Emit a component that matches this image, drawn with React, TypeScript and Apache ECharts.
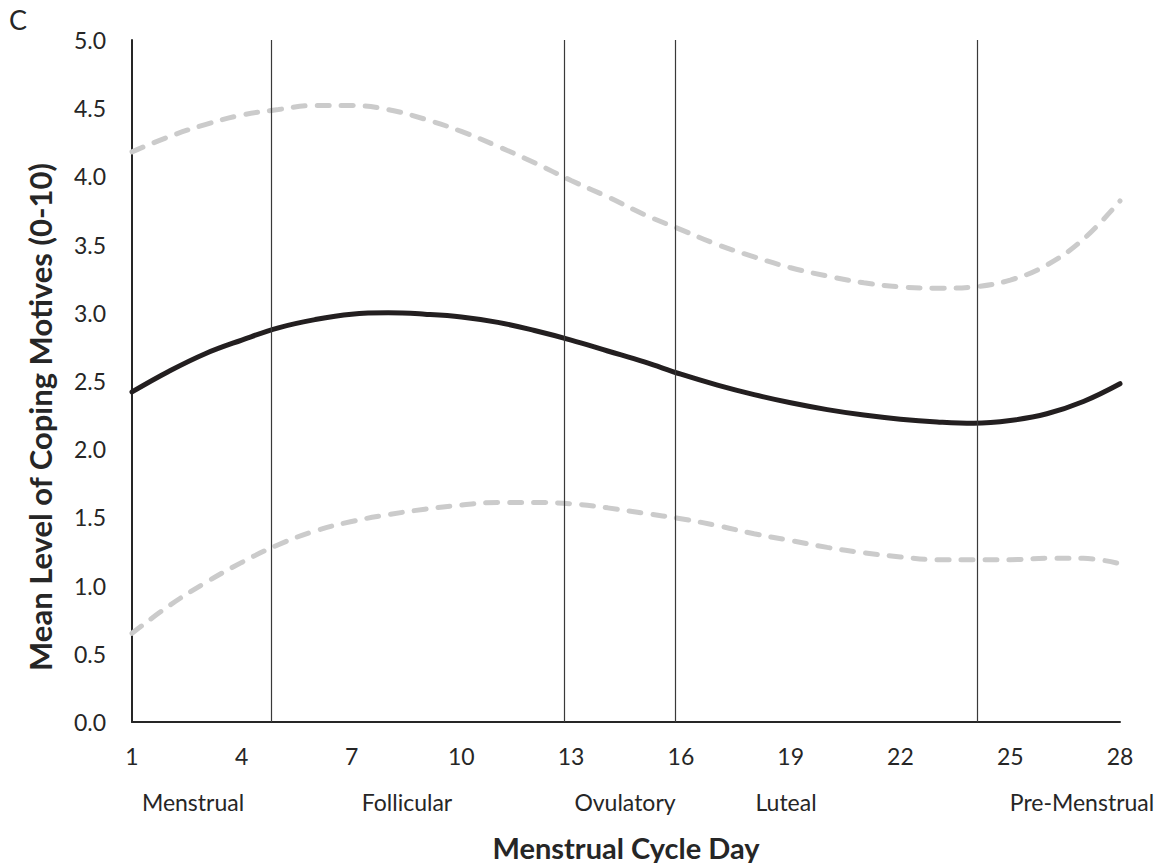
import React, { useEffect, useRef } from "react";
import * as echarts from "echarts";

// ---- data ----
const days = [1, 2, 3, 4, 5, 6, 7, 8, 9, 10, 11, 12, 13, 14, 15, 16, 17, 18, 19, 20, 21, 22, 23, 24, 25, 26, 27, 28];
const meanValues = [2.42, 2.57, 2.70, 2.80, 2.89, 2.95, 2.99, 3.00, 2.99, 2.97, 2.93, 2.87, 2.80, 2.72, 2.64, 2.55, 2.47, 2.40, 2.34, 2.29, 2.25, 2.22, 2.20, 2.19, 2.21, 2.26, 2.35, 2.48];
const upperValues = [4.18, 4.29, 4.38, 4.45, 4.49, 4.52, 4.52, 4.49, 4.42, 4.33, 4.22, 4.10, 3.97, 3.85, 3.72, 3.61, 3.50, 3.41, 3.33, 3.27, 3.22, 3.19, 3.18, 3.19, 3.24, 3.35, 3.54, 3.82];
const lowerValues = [0.65, 0.85, 1.02, 1.17, 1.30, 1.40, 1.47, 1.52, 1.56, 1.59, 1.61, 1.61, 1.60, 1.57, 1.53, 1.49, 1.44, 1.38, 1.33, 1.28, 1.24, 1.21, 1.19, 1.19, 1.19, 1.20, 1.20, 1.16];
const xTickDays = [1, 4, 7, 10, 13, 16, 19, 22, 25, 28];
const phaseBoundaryDays = [4.8, 12.8, 15.85, 24.1];
const phaseNames = ["Menstrual", "Follicular", "Ovulatory", "Luteal", "Pre-Menstrual"];

const xTitle = "Menstrual Cycle Day";
const yTitle = "Mean Level of Coping Motives (0-10)";
const panelLetter = "C";

// ---- layout ----
const phaseLabelX = [193, 407, 625, 786, 1082];
const FONT = "Lato, 'Noto Sans', sans-serif";
const TEXT_COLOR = "#262626";

export default function App() {
  const ref = useRef<HTMLDivElement>(null);

  useEffect(() => {
    if (!ref.current) return;
    const chart = echarts.init(ref.current, undefined, { renderer: "svg" });

    const pairs = (vals: number[]) => days.map((d, i) => [d, vals[i]]);

    const graphic: any[] = [
      {
        type: "text",
        x: 18,
        y: 19,
        style: {
          text: panelLetter,
          fontSize: 27,
          fontWeight: 400,
          fontFamily: FONT,
          fill: TEXT_COLOR,
          align: "center",
          verticalAlign: "middle",
        },
      },
      {
        type: "text",
        x: 626,
        y: 847,
        style: {
          text: xTitle,
          fontSize: 29,
          fontWeight: 700,
          fontFamily: FONT,
          fill: TEXT_COLOR,
          align: "center",
          verticalAlign: "middle",
        },
      },
      {
        type: "text",
        x: 40,
        y: 417,
        rotation: Math.PI / 2,
        style: {
          text: yTitle,
          fontSize: 31,
          fontWeight: 700,
          fontFamily: FONT,
          fill: TEXT_COLOR,
          align: "center",
          verticalAlign: "middle",
        },
      },
      ...phaseNames.map((name, i) => ({
        type: "text",
        x: phaseLabelX[i],
        y: 802,
        style: {
          text: name,
          fontSize: 23,
          fontWeight: 400,
          fontFamily: FONT,
          fill: TEXT_COLOR,
          align: "center",
          verticalAlign: "middle",
        },
      })),
    ];

    chart.setOption({
      animation: false,
      backgroundColor: "#ffffff",
      textStyle: { fontFamily: FONT },
      grid: { left: 132, right: 54, top: 40, bottom: 141, containLabel: false },
      xAxis: {
        type: "value",
        min: 1,
        max: 28,
        axisLine: { show: true, lineStyle: { color: "#262626", width: 2 } },
        axisTick: { show: false },
        splitLine: { show: false },
        axisLabel: {
          customValues: xTickDays,
          color: TEXT_COLOR,
          fontSize: 23,
          fontFamily: FONT,
          margin: 22,
        },
      },
      yAxis: {
        type: "value",
        min: 0,
        max: 5,
        interval: 0.5,
        axisLine: { show: true, lineStyle: { color: "#262626", width: 2 } },
        axisTick: { show: false },
        splitLine: { show: false },
        axisLabel: {
          color: TEXT_COLOR,
          fontSize: 23,
          fontFamily: FONT,
          margin: 26,
          formatter: (v: number) => v.toFixed(1),
        },
      },
      graphic,
      series: [
        {
          name: "Upper",
          type: "line",
          data: pairs(upperValues),
          smooth: 0.4,
          showSymbol: false,
          silent: true,
          lineStyle: { color: "#cbcbcb", width: 5, type: [12, 12], cap: "round" },
          z: 2,
        },
        {
          name: "Lower",
          type: "line",
          data: pairs(lowerValues),
          smooth: 0.4,
          showSymbol: false,
          silent: true,
          lineStyle: { color: "#cbcbcb", width: 5, type: [12, 12], cap: "round" },
          z: 2,
        },
        {
          name: "Mean",
          type: "line",
          data: pairs(meanValues),
          smooth: 0.4,
          showSymbol: false,
          silent: true,
          lineStyle: { color: "#231f20", width: 5, cap: "round" },
          z: 3,
        },
        {
          name: "Phases",
          type: "line",
          data: [],
          silent: true,
          z: 5,
          markLine: {
            silent: true,
            symbol: "none",
            animation: false,
            label: { show: false },
            lineStyle: { color: "#3a3a3a", width: 1.2, type: "solid" },
            emphasis: { disabled: true },
            data: phaseBoundaryDays.map((d) => ({ xAxis: d })),
          },
        },
      ],
    });

    return () => chart.dispose();
  }, []);

  return (
    <div
      ref={ref}
      style={{ position: "fixed", left: 0, top: 0, width: 1174, height: 863, background: "#fff" }}
    />
  );
}
